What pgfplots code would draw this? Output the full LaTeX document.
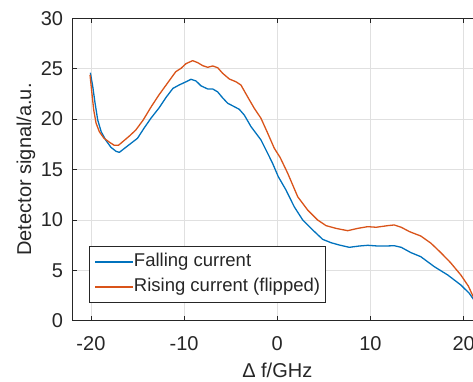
\documentclass[border=0pt]{standalone}
\usepackage{fontspec}
\setmainfont{Liberation Sans}
\usepackage{pgfplots}
\pgfplotsset{compat=1.18}
\definecolor{mblue}{rgb}{0,0.447,0.741}
\definecolor{morange}{rgb}{0.85,0.325,0.098}
\definecolor{mtext}{rgb}{0.15,0.15,0.15}
\definecolor{mgrid}{rgb}{0.88,0.88,0.88}
\begin{document}
\begin{tikzpicture}[x=1pt,y=1pt]
\useasboundingbox (0,0) rectangle (473,381);
\begin{axis}[
  at={(72.3pt,60.3pt)}, anchor=south west,
  scale only axis, width=410pt, height=302.4pt,
  xmin=-22, xmax=22, ymin=0, ymax=30,
  xtick={-20,-10,0,10,20}, xticklabels={-20,-10,0,10,20},
  ytick={0,5,10,15,20,25,30}, yticklabels={0,5,10,15,20,25,30},
  tick align=inside, major tick length=5pt,
  grid=major, grid style={mgrid, line width=0.7pt},
  axis line style={mtext, line width=0.7pt},
  tick style={mtext, line width=0.7pt},
  ticklabel style={font=\fontsize{20}{24}\selectfont, text=mtext, inner sep=0pt},
  xticklabel style={anchor=base, yshift=-30pt},
  yticklabel style={anchor=east, xshift=-9pt},
  xlabel={Δ f/GHz}, ylabel={Detector signal/a.u.},
  label style={font=\fontsize{20}{24}\selectfont, text=mtext, inner sep=0pt},
  xlabel style={at={(axis description cs:0.5,-0.1885)}, anchor=base},
  ylabel style={at={(axis description cs:-0.1007,0.5)}, anchor=base},
  legend style={at={(axis description cs:0.0415,0.0595)}, anchor=south west,
    draw=mtext, line width=0.7pt, fill=white,
    font=\fontsize{18.5}{22}\selectfont, text=mtext,
    inner xsep=5pt, inner ysep=7pt, row sep=8pt, column sep=0pt,
    nodes={inner sep=0pt, text height=13pt, text depth=4pt}},
  legend cell align=left,
  legend image code/.code={\draw[#1, line width=1.3pt] (0pt,0pt) -- (38pt,0pt);},
]
\addplot[mblue, line width=1.3pt, line join=round] coordinates {
(-20.06,24.6) (-19.8,23.2) (-19.56,21.6) (-19.27,19.9) (-18.9,18.75) (-18.4,17.9)
(-17.85,17.2) (-17.3,16.8) (-16.95,16.7) (-16.4,17.1) (-15.7,17.6) (-15.0,18.1)
(-14.3,19.1) (-13.55,20.1) (-12.7,21.1) (-11.9,22.2) (-11.2,23.05) (-10.5,23.4)
(-9.8,23.7) (-9.26,23.95) (-8.72,23.78) (-8.19,23.3) (-7.47,22.99) (-6.93,22.99)
(-6.4,22.7) (-5.86,22.1) (-5.32,21.57) (-4.61,21.23) (-4.08,20.97) (-3.54,20.4)
(-2.82,19.25) (-1.75,17.93) (-1.03,16.6) (-0.5,15.6) (0.1,14.3) (0.93,12.97)
(1.82,11.3) (2.73,9.99) (3.8,9.0) (4.87,8.07) (5.76,7.74) (6.65,7.51)
(7.73,7.28) (8.8,7.41) (9.7,7.48) (10.77,7.41) (11.66,7.41) (12.55,7.44)
(13.3,7.28) (14.35,6.75) (15.4,6.35) (16.85,5.36) (18.3,4.53) (19.7,3.54)
(20.6,2.72) (21.03,2.15) (21.6,1.5)
};
\addlegendentry{Falling current}
\addplot[morange, line width=1.3pt, line join=round] coordinates {
(-20.1,24.4) (-19.9,22.6) (-19.7,20.9) (-19.45,19.6) (-19.1,18.75) (-18.6,18.1)
(-18.0,17.7) (-17.5,17.4) (-17.05,17.4) (-16.6,17.75) (-15.9,18.3) (-15.2,18.9)
(-14.4,19.9) (-13.55,21.2) (-12.7,22.4) (-11.8,23.55) (-10.9,24.7) (-10.33,25.04)
(-9.8,25.5) (-9.08,25.8) (-8.54,25.6) (-8.0,25.3) (-7.47,25.14) (-6.93,25.27)
(-6.4,25.1) (-5.86,24.54) (-5.15,23.98) (-4.43,23.7) (-3.9,23.38) (-3.18,22.2)
(-2.47,21.07) (-1.75,20.08) (-1.03,18.6) (-0.32,17.1) (0.3,16.2) (1.12,14.62)
(2.19,12.3) (3.26,10.98) (4.33,9.99) (5.23,9.43) (6.3,9.16) (7.55,8.93)
(8.63,9.16) (9.7,9.33) (10.6,9.27) (11.85,9.43) (12.55,9.5) (13.3,9.27)
(14.2,8.83) (15.4,8.4) (16.5,7.68) (17.55,6.75) (18.6,5.75) (19.7,4.53)
(20.5,3.44) (21.03,2.38) (21.6,1.4)
};
\addlegendentry{Rising current (flipped)}
\end{axis}
\end{tikzpicture}
\end{document}
